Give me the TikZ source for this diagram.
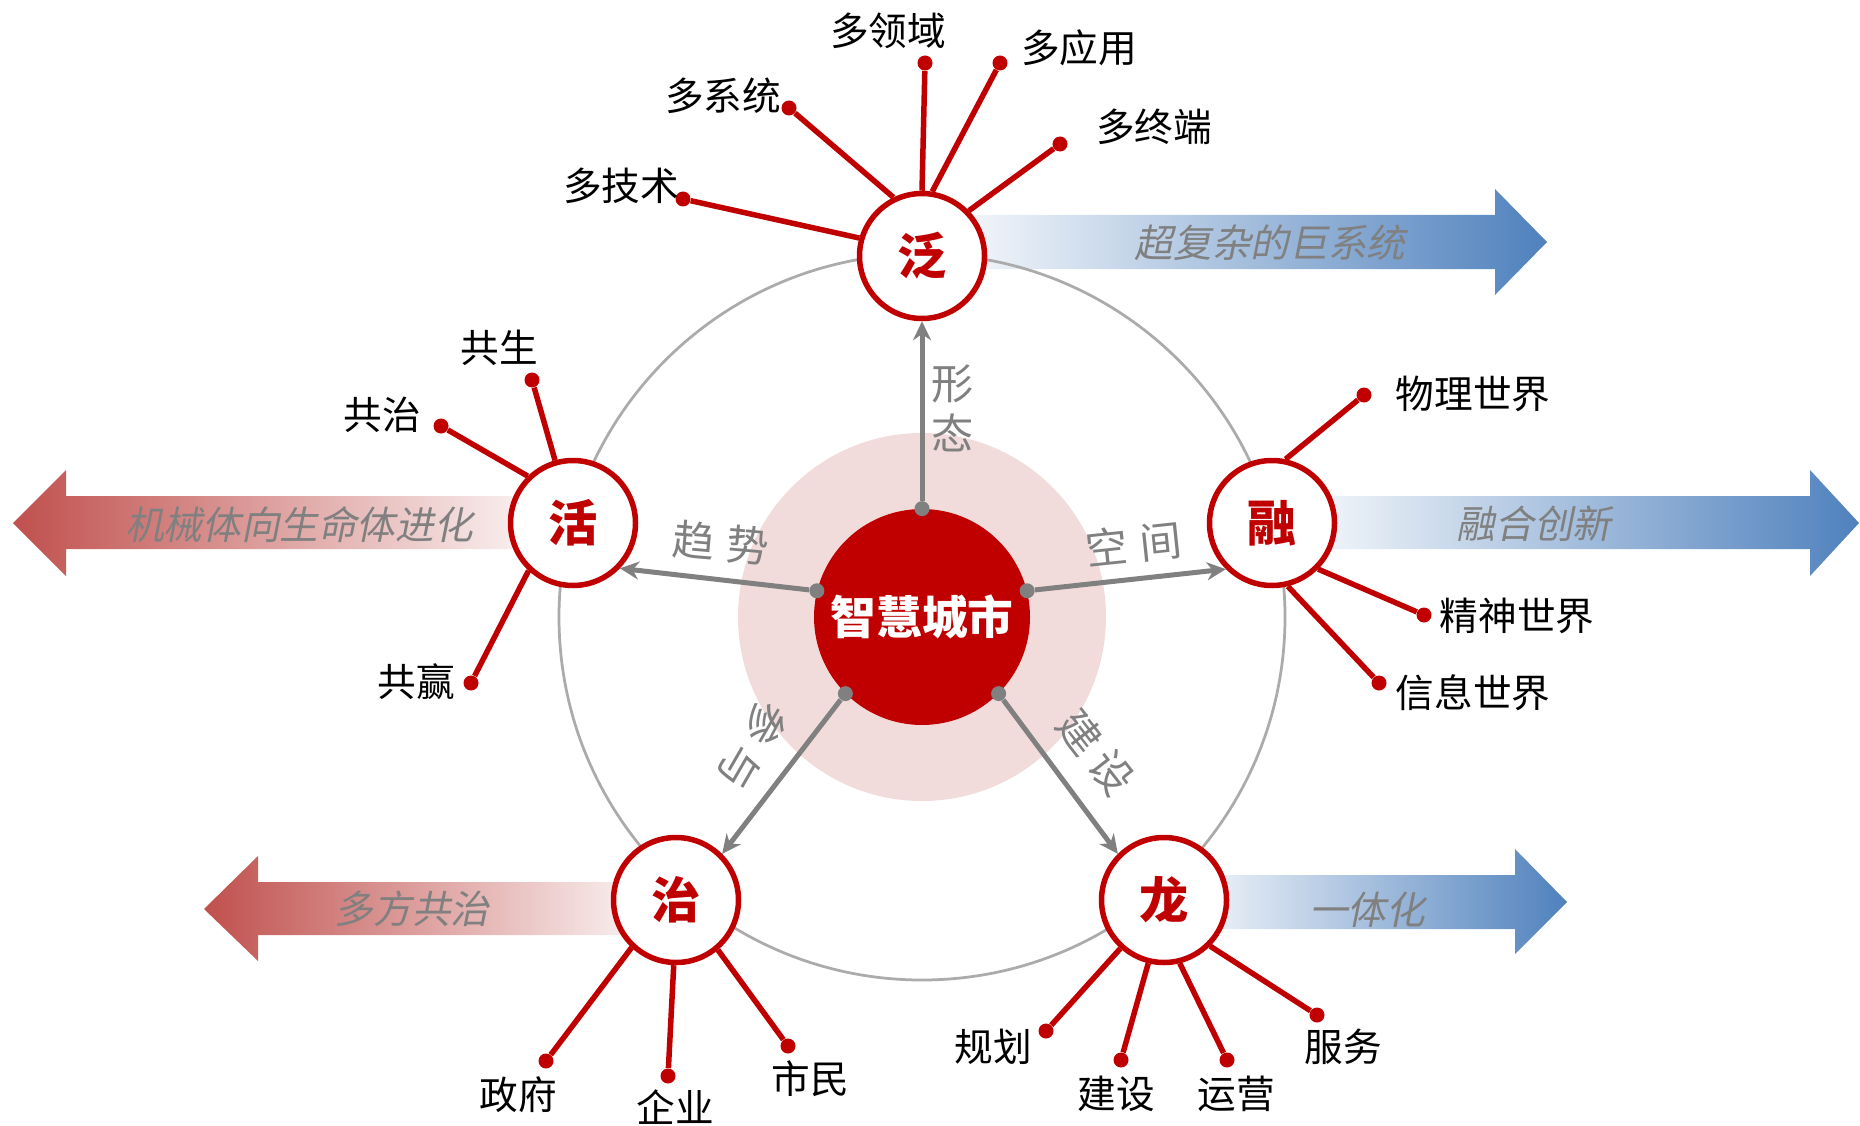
\documentclass[tikz,border=0pt]{standalone}
\usepackage{fontspec}
\setmainfont{Noto Sans CJK SC}
\newfontfamily\slantcjk[FakeSlant=0.2]{Noto Sans CJK SC}
\usetikzlibrary{arrows.meta}
\definecolor{zred}{HTML}{C00000}
\definecolor{zpink}{HTML}{F2DCDB}
\definecolor{zgray}{HTML}{808080}
\definecolor{zring}{HTML}{ABABAB}
\definecolor{zblue}{HTML}{4F81BD}
\definecolor{zrose}{HTML}{C0504D}
\newcommand{\lbl}{\fontsize{22}{26}\selectfont}

\begin{document}
\begin{tikzpicture}[x=0.2mm,y=-0.2mm,
		ringnode/.style={circle,draw=zred,line width=1.1mm,fill=white,minimum size=25mm,inner sep=0pt,text=zred,font=\fontsize{28}{30}\selectfont\bfseries},
		redend/.style={circle,fill=zred,inner sep=0pt,minimum size=3mm},
		grayend/.style={circle,fill=zgray,inner sep=0pt,minimum size=3mm},
		twig/.style={draw=zred,line width=1.1mm},
		spoke/.style={draw=zgray,line width=1mm,-{Stealth[length=3.8mm,width=3.6mm]}},
		word/.style={font=\lbl,inner sep=0pt},
		spokelabel/.style={font=\fontsize{24}{28.5}\selectfont,text=zgray,inner sep=0pt},
		trend/.style={font=\slantcjk\fontsize{22}{26}\selectfont,text=zgray,inner sep=0pt}]
		\useasboundingbox (0,0) rectangle (1860,1126);
		
		\shade[left color=white,middle color=zblue!30,right color=zblue] (922,215) -- (1495,215) -- (1495,189) -- (1547,242) -- (1495,295) -- (1495,269) -- (922,269) -- cycle;
		\shade[left color=white,middle color=zblue!30,right color=zblue] (1272,496) -- (1810,496) -- (1810,470) -- (1859,523) -- (1810,576) -- (1810,549) -- (1272,549) -- cycle;
		\shade[left color=white,middle color=zblue!30,right color=zblue] (1164,875) -- (1515,875) -- (1515,849) -- (1567,902) -- (1515,954) -- (1515,929) -- (1164,929) -- cycle;
		\shade[left color=zrose,middle color=zrose!40,right color=white] (573,496) -- (66,496) -- (66,470) -- (13,523) -- (66,576) -- (66,549) -- (573,549) -- cycle;
		\shade[left color=zrose,middle color=zrose!40,right color=white] (676,882) -- (258,882) -- (258,856) -- (204,909) -- (258,961) -- (258,935) -- (676,935) -- cycle;
		
		\draw[zring,line width=0.55mm] (922,617) circle[radius=72.6mm];
		\fill[zpink] (922,617) circle[radius=36.8mm];
		
		\begin{scope}
			\node[circle,fill=zred,minimum size=43.2mm,inner sep=0pt,text=white,font=\fontsize{26}{30}\selectfont\bfseries] (C) at (922,617) {智慧城市};
			
			\node[ringnode] (F) at (922,256) {泛};
			\node[ringnode] (H) at (573,523) {活};
			\node[ringnode] (R) at (1272,523) {融};
			\node[ringnode] (Z) at (676,900) {治};
			\node[ringnode] (L) at (1164,900) {龙};
			
			\node[grayend] (c1) at (C.90) {};
			\node[grayend] (c2) at (C.166) {};
			\node[grayend] (c3) at (C.14) {};
			\node[grayend] (c4) at (C.-135) {};
			\node[grayend] (c5) at (C.-45) {};
			\draw[spoke] (c1) to (F);
			\draw[spoke] (c2) to (H.-44);
			\draw[spoke] (c3) to (R.-135);
			\draw[spoke] (c4) to (Z.45);
			\draw[spoke] (c5) to (L.135);
			
			\node[spokelabel,align=center] (s1) at (953,408) {形\\态};
			\node[spokelabel,rotate=-5] (s2) at (721,543) {趋\hspace{0.3em}势};
			\node[spokelabel,rotate=6] (s3) at (1134,544) {空\hspace{0.3em}间};
			\node[spokelabel,rotate=-120] (s4) at (753,746) {参\hspace{0.2em}与};
			\node[spokelabel,rotate=-52] (s5) at (1096,752) {建\hspace{0.2em}设};
			
			\node[redend] (F1) at (683,199) {};
			\node[redend] (F2) at (789,108) {};
			\node[redend] (F3) at (925,63) {};
			\node[redend] (F4) at (1000,63) {};
			\node[redend] (F5) at (1060,144) {};
			\draw[twig] (F.164) to (F1);
			\draw[twig] (F.116) to (F2);
			\draw[twig] (F.90) to (F3);
			\draw[twig] (F.81) to (F4);
			\draw[twig] (F.44) to (F5);
			\node[word] (LF1) at (621,186) {多技术};
			\node[word] (LF2) at (723,96) {多系统};
			\node[word] (LF3) at (888,31) {多领域};
			\node[word] (LF4) at (1079,48) {多应用};
			\node[word] (LF5) at (1154,127) {多终端};
			
			\node[redend] (H1) at (532,380) {};
			\node[redend] (H2) at (441,426) {};
			\node[redend] (H3) at (471,683) {};
			\draw[twig] (H.106) to (H1);
			\draw[twig] (H.134) to (H2);
			\draw[twig] (H.-133) to (H3);
			\node[word] (LH1) at (499,348) {共生};
			\node[word] (LH2) at (382,415) {共治};
			\node[word] (LH3) at (416,682) {共赢};
			
			\node[redend] (R1) at (1364,395) {};
			\node[redend] (R2) at (1424,615) {};
			\node[redend] (R3) at (1379,683) {};
			\draw[twig] (R.78) to (R1);
			\draw[twig] (R.-45) to (R2);
			\draw[twig] (R.-76) to (R3);
			\node[word] (LR1) at (1473,394) {物理世界};
			\node[word] (LR2) at (1517,616) {精神世界};
			\node[word] (LR3) at (1473,693) {信息世界};
			
			\node[redend] (Z1) at (546,1061) {};
			\node[redend] (Z2) at (668,1076) {};
			\node[redend] (Z3) at (788,1046) {};
			\draw[twig] (Z.-133) to (Z1);
			\draw[twig] (Z.-92) to (Z2);
			\draw[twig] (Z.-50) to (Z3);
			\node[word] (LZ1) at (518,1095) {政府};
			\node[word] (LZ2) at (675,1107) {企业};
			\node[word] (LZ3) at (810,1079) {市民};
			
			\node[redend] (L1) at (1046,1031) {};
			\node[redend] (L2) at (1121,1060) {};
			\node[redend] (L3) at (1227,1060) {};
			\node[redend] (L4) at (1317,1015) {};
			\draw[twig] (L.-132) to (L1);
			\draw[twig] (L.-104) to (L2);
			\draw[twig] (L.-76) to (L3);
			\draw[twig] (L.-45) to (L4);
			\node[word] (LL1) at (993,1047) {规划};
			\node[word] (LL2) at (1116,1094) {建设};
			\node[word] (LL3) at (1236,1094) {运营};
			\node[word] (LL4) at (1343,1047) {服务};
			
			\node[trend] (T1) at (1270,243) {超复杂的巨系统};
			\node[trend] (T2) at (1534,524) {融合创新};
			\node[trend] (T3) at (299,525) {机械体向生命体进化};
			\node[trend] (T4) at (412,909) {多方共治};
			\node[trend] (T5) at (1367,910) {一体化};
		\end{scope}
	\end{tikzpicture}
\end{document}
